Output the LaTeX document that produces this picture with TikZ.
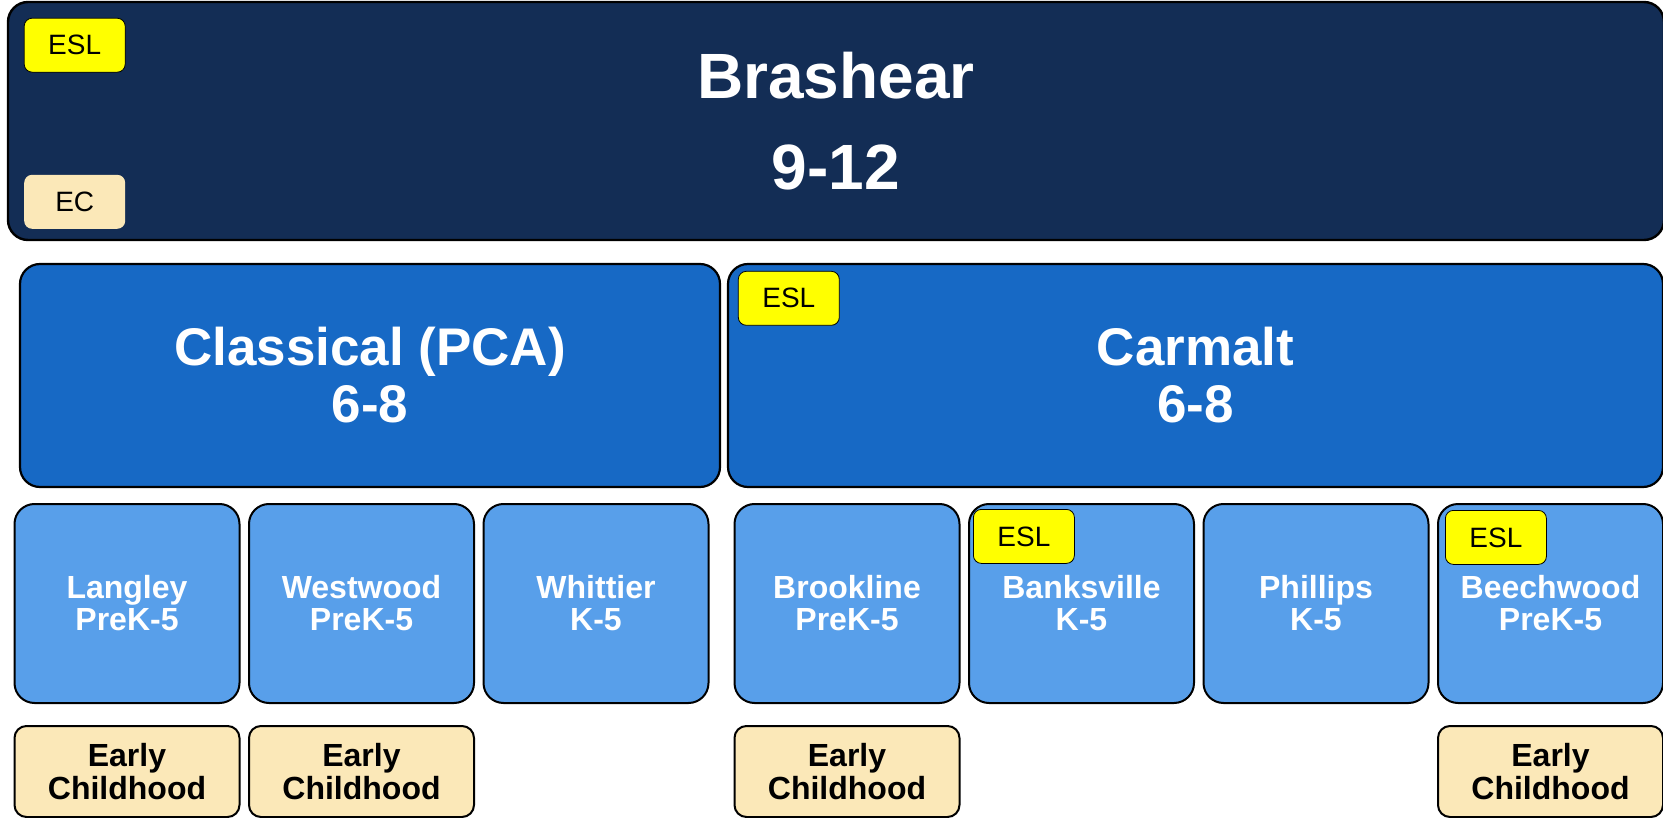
\documentclass[tikz,border=0pt]{standalone}
\usepackage{fontspec}
\setmainfont{Liberation Sans}
\definecolor{navy}{HTML}{132D55}
\definecolor{midblue}{HTML}{1769C5}
\definecolor{lightblue}{HTML}{589FEA}
\definecolor{cream}{HTML}{FBE8B8}
\definecolor{eslyellow}{HTML}{FFFF00}

\begin{document}
\begin{tikzpicture}[x=1pt,y=-1pt,node distance=234.5pt,semithick]
  \tikzstyle{every node}=[draw=black,rounded corners=20pt,inner sep=0pt,align=center]
  \tikzstyle{high}=[fill=navy,line width=2.4pt,minimum width=1656pt,minimum height=238pt,
                    text=white,font=\fontsize{64}{91}\selectfont\bfseries]
  \tikzstyle{middle}=[fill=midblue,line width=2.2pt,minimum height=223pt,
                    text=white,font=\fontsize{53}{57}\selectfont\bfseries]
  \tikzstyle{school}=[fill=lightblue,line width=2pt,minimum width=225pt,minimum height=199pt,
                    text=white,font=\fontsize{32}{32}\selectfont\bfseries]
  \tikzstyle{early}=[fill=cream,line width=2pt,rounded corners=12pt,minimum width=225pt,
                    minimum height=91pt,text=black,font=\fontsize{32}{33}\selectfont\bfseries]
  \tikzstyle{esl}=[fill=eslyellow,line width=0.8pt,rounded corners=8pt,minimum width=101pt,
                    minimum height=54pt,text=black,font=\fontsize{28}{28}\selectfont,anchor=north west]
  \tikzstyle{ectag}=[esl,fill=cream,draw=none,anchor=south west]

  \useasboundingbox (0,0) rectangle (1663,818);

  \node[high]                      (bra) at (836,121)    {Brashear\\9-12};
  \node[middle,minimum width=700pt] (pca) at (370,375.5)  {Classical (PCA)\\6-8};
  \node[middle,minimum width=935pt] (car) at (1195.5,375.5) {Carmalt\\6-8};

  \node[school] (lan) at (127,603.5)  {Langley\\PreK-5};
  \node[school] (wes) [right of=lan]  {Westwood\\PreK-5};
  \node[school] (whi) [right of=wes]  {Whittier\\K-5};
  \node[school] (bro) at (847,603.5)  {Brookline\\PreK-5};
  \node[school] (ban) [right of=bro]  {Banksville\\K-5};
  \node[school] (phi) [right of=ban]  {Phillips\\K-5};
  \node[school] (bee) [right of=phi]  {Beechwood\\PreK-5};

  \node[early] (ecl) [below of=lan,node distance=168pt] {Early\\Childhood};
  \node[early] (ecw) [below of=wes,node distance=168pt] {Early\\Childhood};
  \node[early] (ecb) [below of=bro,node distance=168pt] {Early\\Childhood};
  \node[early] (ecz) [below of=bee,node distance=168pt] {Early\\Childhood};

  \node[esl]   (eslbra) at ([shift={(17,17)}]bra.north west)  {ESL};
  \node[ectag] (ecbra)  at ([shift={(17,-12)}]bra.south west) {EC};
  \node[esl]   (eslcar) at ([shift={(11,8)}]car.north west)   {ESL};
  \node[esl]   (eslban) at ([shift={(5,6)}]ban.north west)    {ESL};
  \node[esl]   (eslbee) at ([shift={(8,7)}]bee.north west)    {ESL};
\end{tikzpicture}
\end{document}
